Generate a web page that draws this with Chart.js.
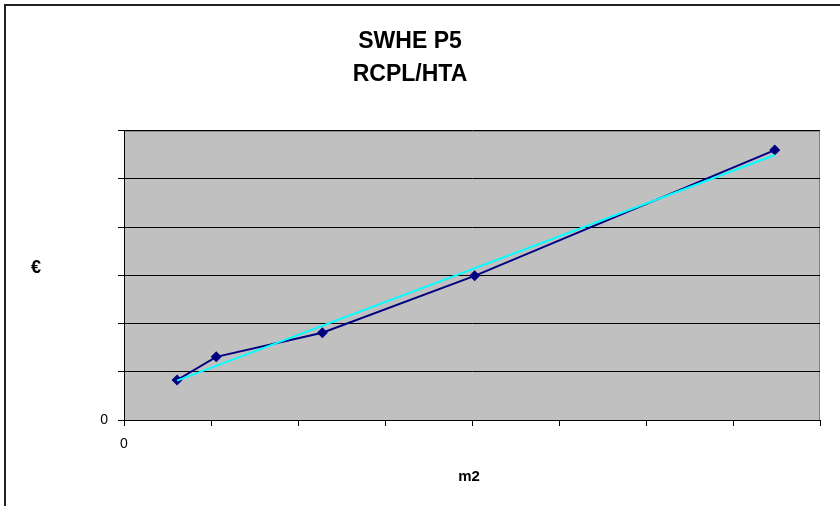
<!DOCTYPE html>
<html>
<head>
<meta charset="utf-8">
<title>SWHE P5 RCPL/HTA</title>
<script src="https://cdn.jsdelivr.net/npm/chart.js@4.4.1/dist/chart.umd.min.js"></script>
<style>
  html, body { margin: 0; padding: 0; background: #fff; }
  #wrap { width: 840px; height: 506px; }
</style>
</head>
<body>
<div id="wrap"><canvas id="grafico" width="840" height="506"></canvas></div>
<script>
// superficie (m2) y coste (€)
const superficies = [6.1, 10.6, 22.8, 40.3, 74.8];
const costes = [830, 1310, 1810, 2990, 5600];
const tituloLineas = ["SWHE P5", "RCPL/HTA"];
const etiquetaY = "€";
const etiquetaX = "m2";

const fuente = "'Liberation Sans', Arial, sans-serif";

// recta de tendencia por minimos cuadrados
const tendencia = (xs, ys) => {
  const n = xs.length;
  const mx = xs.reduce((a, b) => a + b, 0) / n;
  const my = ys.reduce((a, b) => a + b, 0) / n;
  let sxy = 0, sxx = 0;
  for (let i = 0; i < n; i++) {
    sxy += (xs[i] - mx) * (ys[i] - my);
    sxx += (xs[i] - mx) * (xs[i] - mx);
  }
  const m = sxy / sxx;
  const b = my - m * mx;
  const x0 = xs[0], x1 = xs[n - 1];
  return [{ x: x0, y: m * x0 + b }, { x: x1, y: m * x1 + b }];
};

const puntos = superficies.map((x, i) => ({ x: x, y: costes[i] }));

// fondo gris del area, marco exterior y rotulos de ejes
const decorado = {
  id: "decorado",
  beforeDraw(chart) {
    const { ctx, chartArea: a } = chart;
    ctx.save();
    ctx.fillStyle = "#c0c0c0";
    ctx.fillRect(a.left, a.top, a.right - a.left, a.bottom - a.top);
    ctx.strokeStyle = "#808080";
    ctx.lineWidth = 1;
    ctx.strokeRect(a.left + 0.5, a.top + 0.5, a.right - a.left - 1, a.bottom - a.top);
    // marco del grafico
    ctx.strokeStyle = "#222";
    ctx.lineWidth = 2;
    ctx.beginPath();
    ctx.moveTo(5, 506);
    ctx.lineTo(5, 5);
    ctx.lineTo(840, 5);
    ctx.stroke();
    ctx.restore();
  },
  afterDraw(chart) {
    const { ctx, chartArea: a } = chart;
    ctx.save();
    ctx.fillStyle = "#000";
    ctx.textAlign = "center";
    ctx.textBaseline = "middle";
    ctx.font = "bold 18px " + fuente;
    ctx.fillText(etiquetaY, 36, 268);
    ctx.font = "bold 15px " + fuente;
    ctx.fillText(etiquetaX, (a.left + a.right) / 2 - 3, 477);
    ctx.restore();
  }
};

new Chart(document.getElementById("grafico"), {
  type: "scatter",
  data: {
    datasets: [
      {
        label: "tendencia",
        data: tendencia(superficies, costes),
        showLine: true,
        borderColor: "#00ffff",
        borderWidth: 2,
        pointRadius: 0,
        order: 0
      },
      {
        label: "RCPL/HTA",
        data: puntos,
        showLine: true,
        borderColor: "#000080",
        borderWidth: 2,
        backgroundColor: "#000080",
        pointStyle: "rectRot",
        pointRadius: 5.5,
        pointBorderWidth: 0,
        order: 1
      }
    ]
  },
  options: {
    responsive: false,
    animation: false,
    layout: { padding: { left: 0, right: 20, top: 0, bottom: 0 } },
    plugins: {
      legend: { display: false },
      tooltip: { enabled: false },
      title: {
        display: true,
        text: tituloLineas,
        color: "#000",
        font: { family: fuente, size: 23, weight: "bold", lineHeight: 1.43 },
        padding: { top: 25, bottom: 40 }
      }
    },
    scales: {
      x: {
        type: "linear",
        min: 0,
        max: 80,
        afterFit: (s) => { s.height = 86; },
        grid: { drawOnChartArea: false, drawTicks: true, tickLength: 6, color: "#000" },
        border: { color: "#000", width: 1 },
        ticks: {
          stepSize: 10,
          autoSkip: false,
          maxRotation: 0,
          padding: 10,
          color: "#000",
          font: { family: fuente, size: 14 },
          callback: (v) => (v === 0 ? "0" : "")
        }
      },
      y: {
        min: 0,
        max: 6000,
        afterFit: (s) => { s.width = 124; },
        grid: { color: "#000", lineWidth: 1, tickLength: 6 },
        border: { color: "#000", width: 1 },
        ticks: {
          stepSize: 1000,
          autoSkip: false,
          padding: 10,
          color: "#000",
          font: { family: fuente, size: 14 },
          callback: (v) => (v === 0 ? "0" : "")
        }
      }
    }
  },
  plugins: [decorado]
});
</script>
</body>
</html>
